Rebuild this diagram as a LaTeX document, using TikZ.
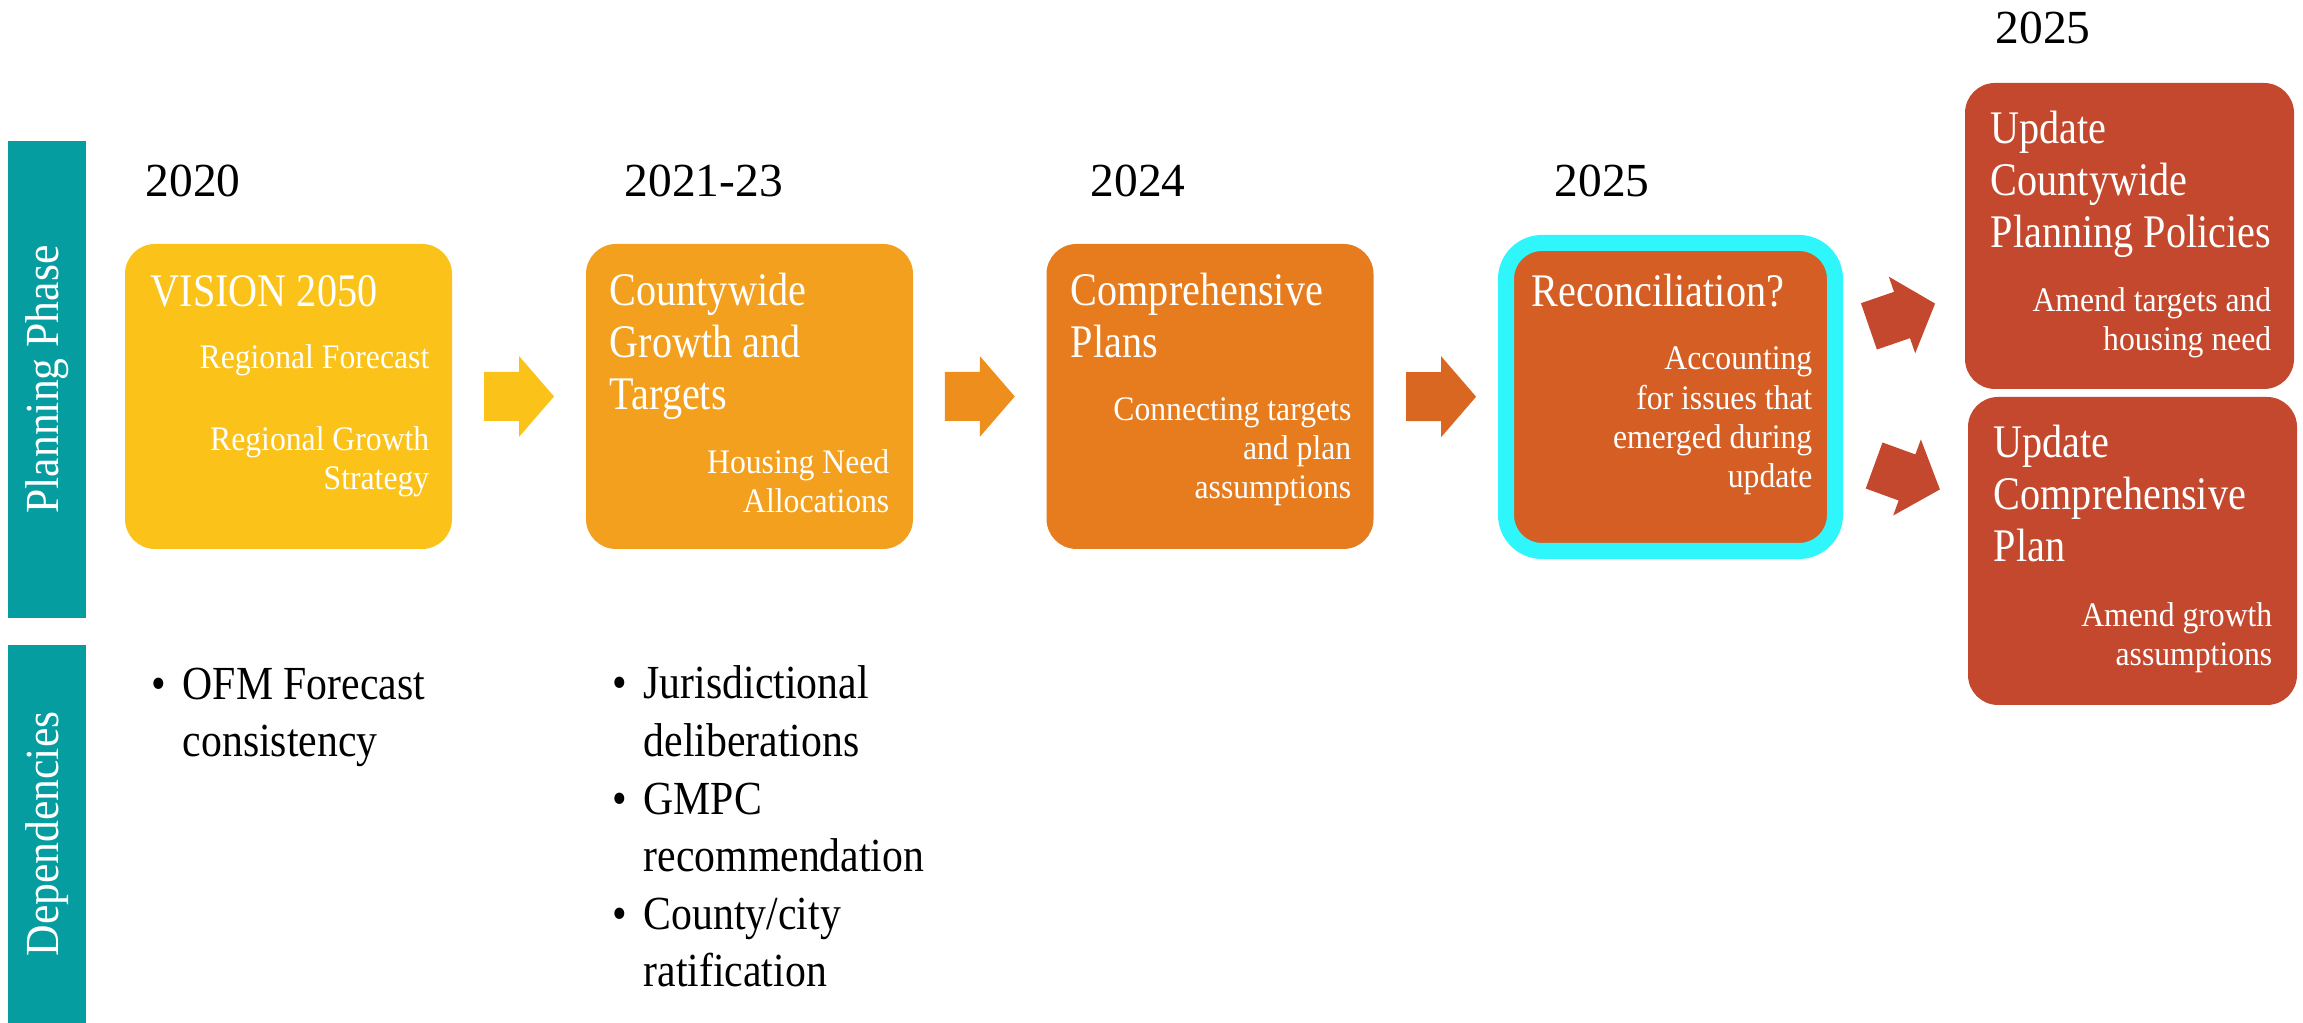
\documentclass[tikz,border=0pt]{standalone}
\usepackage{fontspec}
\setmainfont{Liberation Serif}
\newfontfamily\titlefont{Liberation Serif}[FakeStretch=0.86]
\newfontfamily\subfont{Liberation Serif}[FakeStretch=0.92]
\newfontfamily\depfont{Liberation Serif}[FakeStretch=0.88]
\usepackage{tikz}
\usepackage{xcolor}
\usetikzlibrary{calc}
\definecolor{tealbar}{RGB}{6,157,160}
\definecolor{stageA}{RGB}{251,194,25}
\definecolor{stageB}{RGB}{242,160,30}
\definecolor{arrowB}{RGB}{238,143,29}
\definecolor{stageC}{RGB}{230,124,30}
\definecolor{arrowC}{RGB}{217,103,34}
\definecolor{stageD}{RGB}{212,94,36}
\definecolor{reconrim}{RGB}{46,246,250}
\definecolor{stageE}{RGB}{196,72,45}
\newcommand{\depbullet}{\llap{\textbullet\hspace{0.17cm}}}

\begin{document}
\begin{tikzpicture}[stage/.style={rounded corners=0.3cm, minimum width=3.27cm, minimum height=3.05cm, inner sep=0},
                phase/.style={fill=tealbar, rotate=90, minimum height=0.78cm, inner sep=0, text=white, font=\subfont\fontsize{13.5}{15}\selectfont},
                year/.style={anchor=base west, inner sep=0, font=\fontsize{13.5}{15}\selectfont},
                title/.style={anchor=base west, inner sep=0, align=left, text=white, font=\titlefont\fontsize{13.3}{14.8}\selectfont},
                sub/.style={anchor=base east, inner sep=0, align=right, text=white, font=\subfont\fontsize{9.8}{11.2}\selectfont},
                dep/.style={anchor=base west, inner sep=0, align=left, font=\depfont\fontsize{13.5}{16.4}\selectfont},
                blockarr/.pic={\fill (-0.35,-0.245) -- (0,-0.245) -- (0,-0.405) -- (0.35,0) -- (0,0.405) -- (0,0.245) -- (-0.35,0.245) -- cycle;}]
                \useasboundingbox (0,0) rectangle (23.03,10.23);
                % side bars
                \node[phase, minimum width=4.77cm] (plan) at (0.47,6.435) {Planning Phase};
                \node[phase, minimum width=3.78cm] (deps) at (0.47,1.89) {Dependencies};
                % stages
                \node[stage, fill=stageA] (vision) at (2.885,6.265) {};
                \node[stage, fill=stageB] (growth) at (7.495,6.265) {};
                \node[stage, fill=stageC] (comp) at (12.10,6.265) {};
                \node[stage, fill=stageD, draw=reconrim, line width=0.16cm, minimum width=3.29cm, minimum height=3.08cm, rounded corners=0.36cm] (recon) at (16.705,6.26) {};
                \node[stage, fill=stageE, minimum width=3.29cm, minimum height=3.06cm] (cpp) at (21.295,7.87) {};
                \node[stage, fill=stageE, minimum width=3.29cm, minimum height=3.08cm] (cplan) at (21.325,4.72) {};
                % years
                \node[year] (y1) at (1.45,8.26) {2020};
                \node[year] (y2) at (6.24,8.26) {2021-23};
                \node[year] (y3) at (10.90,8.26) {2024};
                \node[year] (y4) at (15.54,8.26) {2025};
                \node[year] (y5) at (19.95,9.79) {2025};
                % texts in the stages (anchored on their last line)
                \node[title] (t1) at (1.50,7.16) {VISION 2050};
                \node[sub] (s1) at (4.30,5.33) {Regional Forecast\\[0.43cm]Regional Growth\\Strategy};
                \node[title] (t2) at (6.09,6.13) {Countywide\\Growth and\\Targets};
                \node[sub] (s2) at (8.90,5.10) {Housing Need\\Allocations};
                \node[title] (t3) at (10.70,6.65) {Comprehensive\\Plans};
                \node[sub] (s3) at (13.52,5.24) {Connecting targets\\and plan\\assumptions};
                \node[title] (t4) at (15.31,7.16) {Reconciliation?};
                \node[sub] (s4) at (18.13,5.35) {Accounting\\for issues that\\emerged during\\update};
                \node[title] (t5) at (19.90,7.75) {Update\\Countywide\\Planning Policies};
                \node[sub] (s5) at (22.72,6.72) {Amend targets and\\housing need};
                \node[title] (t6) at (19.93,4.61) {Update\\Comprehensive\\Plan};
                \node[sub] (s6) at (22.73,3.57) {Amend growth\\assumptions};
                % dependencies
                \node[dep] (d1) at (1.82,2.66) {\depbullet OFM Forecast\\consistency};
                \node[dep] (d2) at (6.43,0.36) {\depbullet Jurisdictional\\deliberations\\\depbullet GMPC\\recommendation\\\depbullet County/city\\ratification};
                % arrows
                \pic[color=stageA] at ($(vision.east)!0.5!(growth.west)$) {blockarr};
                \pic[color=arrowB] at ($(growth.east)!0.5!(comp.west)$) {blockarr};
                \pic[color=arrowC] at ($(comp.east)!0.5!(recon.west)+(0.05,0)$) {blockarr};
                \pic[color=stageE, rotate=19] at (19.02,7.08) {blockarr};
                \pic[color=stageE, rotate=-20] at (19.07,5.455) {blockarr};
            \end{tikzpicture}
\end{document}
